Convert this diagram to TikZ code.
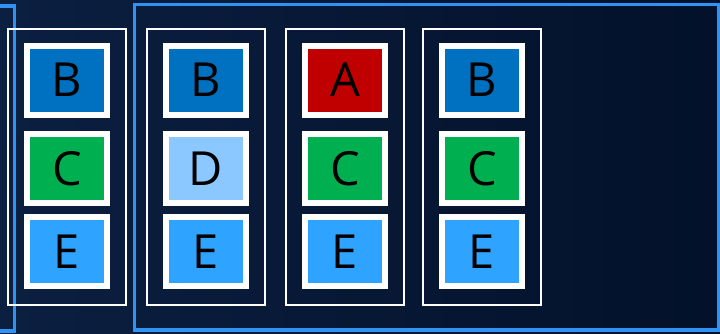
\documentclass[tikz,border=0pt]{standalone}
\usepackage{fontspec}
\setmainfont{Open Sans}
\begin{document}
\begin{tikzpicture}[x=1pt,y=-1pt,
  col/.style={draw=white,line width=2pt,minimum width=118pt,minimum height=276pt,inner sep=0pt},
  cell/.style={draw=white,line width=6pt,minimum width=80pt,minimum height=69pt,inner sep=0pt,font=\fontsize{47}{50}\selectfont,text=black},
  frame/.style={draw=blueF,line width=3.6pt}]
\definecolor{bgL}{HTML}{0B1F40}
\definecolor{bgR}{HTML}{03112A}
\definecolor{blueF}{HTML}{2E93F5}
\definecolor{cB}{HTML}{0070C0}
\definecolor{cC}{HTML}{00B050}
\definecolor{cE}{HTML}{2EA3FF}
\definecolor{cD}{HTML}{8BC8FF}
\definecolor{cA}{HTML}{C00000}
\useasboundingbox (0,0) rectangle (720,333);
\shade[left color=bgL,right color=bgR] (0,0) rectangle (720,333);
\draw[frame] (-5,6) rectangle (14.5,331);
\draw[frame] (134.5,4.5) rectangle (718.5,330);
\foreach \i/\x in {1/67,2/206,3/345,4/482}{
  \node[col] (col\i) at (\x,167) {};
}
\node[cell,fill=cB] (b1) at (67,80) {B};
\node[cell,fill=cC] (c1) at (67,168.5) {C};
\node[cell,fill=cE] (e1) at (67,251.5) {E};
\node[cell,fill=cB] (b2) at (206,80) {B};
\node[cell,fill=cD] (d2) at (206,168.5) {D};
\node[cell,fill=cE] (e2) at (206,251.5) {E};
\node[cell,fill=cA] (a3) at (345,80) {A};
\node[cell,fill=cC] (c3) at (345,168.5) {C};
\node[cell,fill=cE] (e3) at (345,251.5) {E};
\node[cell,fill=cB] (b4) at (482,80) {B};
\node[cell,fill=cC] (c4) at (482,168.5) {C};
\node[cell,fill=cE] (e4) at (482,251.5) {E};
\end{tikzpicture}
\end{document}
